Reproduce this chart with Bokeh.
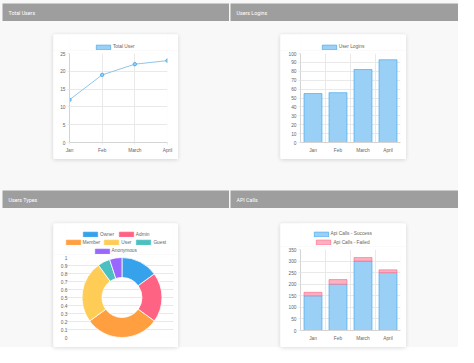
import math
from bokeh.plotting import figure
from bokeh.models import ColumnDataSource, Range1d, FixedTicker, Legend, LegendItem, Label, Spacer
from bokeh.layouts import row, column
from bokeh.embed import file_html
from bokeh.resources import INLINE

# ---------------- data ----------------
months = ["Jan", "Feb", "March", "April"]
total_users = [12, 19, 22, 23]
user_logins = [55, 56, 82, 93]
user_types = ["Owner", "Admin", "Member", "User", "Guest", "Anonymous"]
user_type_counts = [15, 20, 30, 25, 5, 5]
api_success = [150, 200, 300, 250]
api_failed = [15, 20, 15, 12]
api_series = ["Api Calls - Success", "Api Calls - Failed"]
panel_titles = ["Total Users", "Users Logins", "Users Types", "API Calls"]
line_series = "Total User"
bar_series = "User Logins"
total_ticks = [0, 5, 10, 15, 20, 25]
login_ticks = [0, 10, 20, 30, 40, 50, 60, 70, 80, 90, 100]
type_ticks = [0, 0.1, 0.2, 0.3, 0.4, 0.5, 0.6, 0.7, 0.8, 0.9, 1]
type_tick_labels = ["0", "0.1", "0.2", "0.3", "0.4", "0.5", "0.6", "0.7", "0.8", "0.9", "1"]
api_ticks = [0, 50, 100, 150, 200, 250, 300, 350]

# ---------------- styles ----------------
BG = "#f8f8f8"
HEAD = "#9e9e9e"
BLUE = "#36a2eb"
BLUE_FILL = "#9ad0f5"
PINK = "#ff6384"
PINK_FILL = "#ffb1c1"
type_colors = ["#36a2eb", "#ff6384", "#ff9f40", "#ffcd56", "#4bc0c0", "#9966ff"]
FONT = "Liberation Sans"
TXT = "#666666"
GRID = "#e9e9e9"
AXIS = "#d4d4d4"
FS = "4.8px"
SHADOW = {"box-shadow": "0 1px 4px rgba(0,0,0,0.14)", "border-radius": "2px"}


def header(title, w, h):
    p = figure(width=w, height=h, x_range=Range1d(0, w), y_range=Range1d(0, h),
               x_axis_type=None, y_axis_type=None, toolbar_location=None,
               output_backend="svg", title=None, min_border=0,
               background_fill_color=HEAD, border_fill_color=HEAD, outline_line_color=None)
    p.add_layout(Label(x=6, y=h / 2, x_units="screen", y_units="screen", text=title,
                       text_color="white", text_font_size="5.3px", text_font="Roboto",
                       text_baseline="middle"))
    return p


def legend_fig(w, h):
    return figure(width=w, height=h, x_range=Range1d(0, 1), y_range=Range1d(0, 1),
                  x_axis_type=None, y_axis_type=None, toolbar_location=None,
                  output_backend="svg", title=None, min_border=0,
                  background_fill_color="white", border_fill_color="white",
                  outline_line_color=None)


def legend_item(lf, label, renderer, bx, cy, frame_left, index=0):
    # bx, cy: key box left / row centre, relative to the card's top-left corner
    lg = Legend(items=[LegendItem(label=label, renderers=[renderer], index=index)],
                location=(bx - frame_left - 1.8, lf.height - cy - 3),
                orientation="horizontal", padding=0, margin=0, spacing=0,
                glyph_width=18, glyph_height=6, label_height=6, label_width=5,
                label_standoff=1, label_text_font_size=FS, label_text_font=FONT,
                label_text_color=TXT, border_line_color=None, background_fill_alpha=0)
    lf.add_layout(lg)


def chart(w, h, left, right, top, bottom, xr, yr, **kw):
    p = figure(width=w, height=h, x_range=xr, y_range=yr, toolbar_location=None,
               output_backend="svg", title=None,
               min_border_left=left, min_border_right=right,
               min_border_top=top, min_border_bottom=bottom,
               background_fill_color="white", border_fill_color="white",
               outline_line_color=None, **kw)
    for ax in p.axis:
        ax.major_label_text_font_size = FS
        ax.major_label_text_color = TXT
        ax.major_label_text_font = FONT
        ax.axis_line_color = AXIS
        ax.major_tick_line_color = GRID
        ax.major_tick_out = 2
        ax.major_tick_in = 0
        ax.minor_tick_line_color = None
        ax.major_label_standoff = 2
    for g in p.grid:
        g.grid_line_color = GRID
    return p


x_idx = list(range(len(months)))
bar_x = [i + 0.5 for i in x_idx]
month_labels = {i: m for i, m in enumerate(months)}
bar_labels = {i + 0.5: m for i, m in enumerate(months)}

# ---------- card 1 : line ----------
src1 = ColumnDataSource(dict(x=x_idx, y=total_users))
l1 = legend_fig(125, 16)
key1 = l1.vbar(x="x", top="y", width=0.7, source=src1, fill_color=BLUE_FILL,
               line_color=BLUE, line_width=0.6, visible=False)
legend_item(l1, line_series, key1, 42.7, 12.8, 16)
p1 = chart(125, 109, 16, 11, 3, 17, Range1d(0, 3), Range1d(0, 25))
p1.line("x", "y", source=src1, line_color="#8ec5ec", line_width=1)
p1.scatter("x", "y", source=src1, size=3.4, fill_color=BLUE_FILL, line_color=BLUE, line_width=0.8)
p1.xaxis.ticker = FixedTicker(ticks=x_idx)
p1.xaxis.major_label_overrides = month_labels
p1.xaxis.major_label_standoff = 3
p1.yaxis.ticker = FixedTicker(ticks=total_ticks)
card1 = column(l1, p1, styles=SHADOW)

# ---------- card 2 : bars ----------
src2 = ColumnDataSource(dict(x=bar_x, top=user_logins))
l2 = legend_fig(126, 16)
key2 = l2.vbar(x="x", top="top", width=0.72, source=src2, fill_color=BLUE_FILL,
               line_color=BLUE, line_width=0.6, visible=False)
legend_item(l2, bar_series, key2, 41.5, 12.6, 20)
p2 = chart(126, 109, 20, 6, 3, 17, Range1d(0, 4), Range1d(0, 100))
p2.vbar(x="x", top="top", width=0.72, source=src2, fill_color=BLUE_FILL, line_color=BLUE, line_width=0.6)
p2.xaxis.ticker = FixedTicker(ticks=bar_x)
p2.xaxis.major_label_overrides = bar_labels
p2.xaxis.major_tick_line_color = None
p2.xaxis.major_label_standoff = 3
p2.xgrid.ticker = FixedTicker(ticks=[0, 1, 2, 3, 4])
p2.yaxis.ticker = FixedTicker(ticks=login_ticks)
card2 = column(l2, p2, styles=SHADOW)

# ---------- card 3 : doughnut ----------
tot = sum(user_type_counts)
starts, ends, acc = [], [], 0
for c in user_type_counts:
    starts.append(math.pi / 2 - 2 * math.pi * acc / tot)
    acc += c
    ends.append(math.pi / 2 - 2 * math.pi * acc / tot)
src3 = ColumnDataSource(dict(x=[0.5] * len(user_types), y=[0.5] * len(user_types),
                             s=starts, e=ends, color=type_colors, name=user_types))
wedge_kw = dict(x="x", y="y", inner_radius=20, outer_radius=40,
                inner_radius_units="screen", outer_radius_units="screen",
                start_angle="s", end_angle="e", direction="clock",
                fill_color="color", line_color="color", source=src3)
l3 = legend_fig(125, 31)
key3 = l3.annular_wedge(visible=False, line_width=0.6, **wedge_kw)
legend_pos3 = [(29.8, 11.2), (65.6, 11.2), (12.4, 19.1), (51.1, 19.1), (83.2, 19.1), (41.4, 27.5)]
for i, (bx, cy) in enumerate(legend_pos3):
    legend_item(l3, user_types[i], key3, bx, cy, 12, index=i)
p3 = chart(125, 93, 12, 5, 3, 10, Range1d(-0.048, 1), Range1d(0, 1), x_axis_type=None)
wedge_kw["line_color"] = "white"
p3.annular_wedge(line_width=0.8, **wedge_kw)
p3.yaxis.ticker = FixedTicker(ticks=type_ticks)
p3.yaxis.major_label_overrides = {t: l for t, l in zip(type_ticks, type_tick_labels)}
p3.yaxis.axis_line_color = None
p3.yaxis.major_tick_out = 0
p3.yaxis.major_label_standoff = -2
card3 = column(l3, p3, styles=SHADOW)

# ---------- card 4 : stacked bars ----------
src4 = ColumnDataSource(dict(x=bar_x, success=api_success, failed=api_failed))
stack_kw = dict(x="x", width=0.72, source=src4, fill_color=[BLUE_FILL, PINK_FILL],
                line_color=[BLUE, PINK], line_width=0.6)
l4 = legend_fig(126, 23)
keys4 = l4.vbar_stack(["success", "failed"], visible=False, **stack_kw)
legend_item(l4, api_series[0], keys4[0], 33.3, 10.9, 20)
legend_item(l4, api_series[1], keys4[1], 36.2, 19.1, 20)
p4 = chart(126, 101, 20, 6, 3, 17, Range1d(0, 4), Range1d(0, 350))
p4.vbar_stack(["success", "failed"], **stack_kw)
p4.xaxis.ticker = FixedTicker(ticks=bar_x)
p4.xaxis.major_label_overrides = bar_labels
p4.xaxis.major_tick_line_color = None
p4.xaxis.major_label_standoff = 3
p4.xgrid.ticker = FixedTicker(ticks=[0, 1, 2, 3, 4])
p4.yaxis.ticker = FixedTicker(ticks=api_ticks)
card4 = column(l4, p4, styles=SHADOW)

# ---------- layout ----------
hdr1 = row(Spacer(width=2, height=18), header(panel_titles[0], 227, 18),
           Spacer(width=1, height=18), header(panel_titles[1], 228, 18))
row1 = row(Spacer(width=53, height=125), card1, Spacer(width=102, height=125), card2,
           Spacer(width=52, height=125))
hdr2 = row(Spacer(width=2, height=18), header(panel_titles[2], 227, 18),
           Spacer(width=1, height=18), header(panel_titles[3], 228, 18))
row2 = row(Spacer(width=53, height=124), card3, Spacer(width=102, height=124), card4,
           Spacer(width=52, height=124))
page = column(Spacer(width=458, height=3), hdr1, Spacer(width=458, height=13), row1,
              Spacer(width=458, height=31), hdr2, Spacer(width=458, height=15), row2,
              styles={"background-color": BG})

open("out.html", "w").write(file_html(page, INLINE))
